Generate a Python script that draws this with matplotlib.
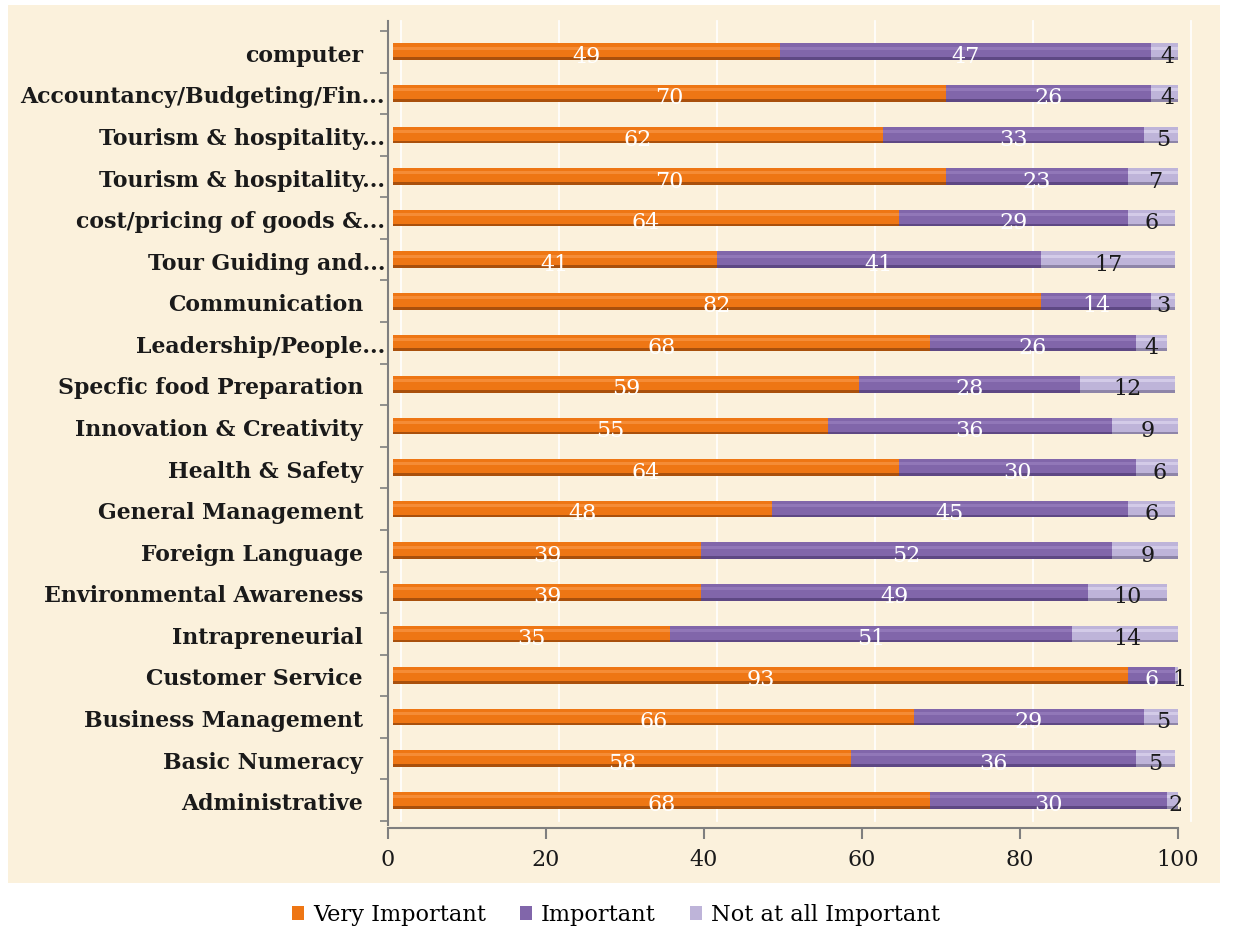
import matplotlib
matplotlib.use("Agg")
import matplotlib.pyplot as plt
from matplotlib.patches import Rectangle, Patch
from matplotlib.transforms import ScaledTranslation
import numpy as np

categories = [
    "computer", "Accountancy/Budgeting/Fin...", "Tourism & hospitality...",
    "Tourism & hospitality...", "cost/pricing of goods &...", "Tour Guiding and...",
    "Communication", "Leadership/People...", "Specfic food Preparation",
    "Innovation & Creativity", "Health & Safety", "General Management",
    "Foreign Language", "Environmental Awareness", "Intrapreneurial",
    "Customer Service", "Business Management", "Basic Numeracy", "Administrative",
]
very_important = [49, 70, 62, 70, 64, 41, 82, 68, 59, 55, 64, 48, 39, 39, 35, 93, 66, 58, 68]
important      = [47, 26, 33, 23, 29, 41, 14, 26, 28, 36, 30, 45, 52, 49, 51, 6, 29, 36, 30]
not_important  = [4, 4, 5, 7, 6, 17, 3, 4, 12, 9, 6, 6, 9, 10, 14, 1, 5, 5, 2]
series_names = ["Very Important", "Important", "Not at all Important"]
xticks = [0, 20, 40, 60, 80, 100]

W, H = 1238, 930
fig = plt.figure(figsize=(W / 100, H / 100), dpi=100, facecolor="white")

# parchment panel
fig.patches.append(Rectangle((8 / W, 1 - 883 / H), (1220 - 8) / W, (883 - 5) / H,
                             transform=fig.transFigure, facecolor="#FBF1DC",
                             edgecolor="none", zorder=-10))

ax = fig.add_axes([388 / W, 1 - 821 / H, 790 / W, (821 - 31) / H])
ax.set_zorder(5)
ax.set_facecolor("none")
n = len(categories)
y = np.arange(n)
ax.set_xlim(0, 100)
ax.set_ylim(n - 0.5, -0.5)

px = lambda p, q=0: ScaledTranslation(p / 100, q / 100, fig.dpi_scale_trans)
bar_tr = ax.transData + px(5)
grid_tr = ax.transData + px(13)

# back wall gridlines
for xv in xticks:
    ax.plot([xv, xv], [n - 0.5, -0.75], color="white", lw=1.3, alpha=0.9,
            transform=grid_tr, zorder=1, clip_on=False)

serif = "DejaVu Serif"
colors = [
    ("#EE7614", "#F58C36", "#A9500C"),
    ("#8166AA", "#9177B8", "#5E4884"),
    ("#BEB4D9", "#D3CBE8", "#8E85A8"),
]
text_colors = ["white", "white", "#1a1a1a"]
data = [very_important, important, not_important]
bh = 0.40
left = np.zeros(n)
for k, vals in enumerate(data):
    vals = np.array(vals, dtype=float)
    main, light, dark = colors[k]
    layers = [
        (bh, 0.0, main),
        (bh * 0.18, -bh * 0.22, light),
        (bh * 0.16, bh * 0.42, dark),
    ]
    for hgt, dy, col in layers:
        bars = ax.barh(y + dy, vals, left=left, height=hgt, color=col,
                       edgecolor="none", zorder=3)
        for b in bars:
            b.set_transform(bar_tr)
    for i in range(n):
        ax.text(left[i] + vals[i] / 2, y[i] + 0.12, f"{int(vals[i])}",
                ha="center", va="center", color=text_colors[k], fontsize=16,
                family=serif, transform=bar_tr, zorder=5)
    left += vals

# axes styling
for s in ["top", "right"]:
    ax.spines[s].set_visible(False)
ax.spines["left"].set_color("#7f7f7f")
ax.spines["bottom"].set_color("#7f7f7f")
ax.spines["left"].set_linewidth(1.5)
ax.spines["bottom"].set_linewidth(1.5)
ax.spines["left"].set_bounds(n - 0.5 + 0.1, -0.75)
ax.spines["bottom"].set_position(("outward", 5))
ax.set_xticks(xticks)
ax.set_xticklabels([str(v) for v in xticks], family=serif, fontsize=16, color="#1a1a1a")
ax.tick_params(axis="x", length=8, width=1.5, color="#7f7f7f", pad=7)
ax.set_yticks(y)
ax.set_yticklabels([])
ax.set_yticks(np.arange(n + 1) - 0.5, minor=True)
ax.tick_params(axis="y", which="major", length=0)
ax.tick_params(axis="y", which="minor", length=6, width=1.2, color="#7f7f7f")

ytr = ax.get_yaxis_transform()
for i, lab in enumerate(categories):
    pad = 3 if lab.endswith("...") else 25
    ax.text(0, y[i], lab, ha="right", va="center", fontsize=15.8,
            fontweight="bold", family=serif, color="#1a1a1a",
            transform=ytr + px(-pad, -4))

handles = [Patch(facecolor=c[0], edgecolor="none") for c in colors]
fig.legend(handles, series_names, loc="center", bbox_to_anchor=(616 / W, 1 - 915 / H),
           ncol=3, frameon=False, prop={"family": serif, "size": 16.2},
           handlelength=0.55, handleheight=0.55, handletextpad=0.4, columnspacing=1.5)

fig.savefig("out.png", dpi=100, facecolor="white")
